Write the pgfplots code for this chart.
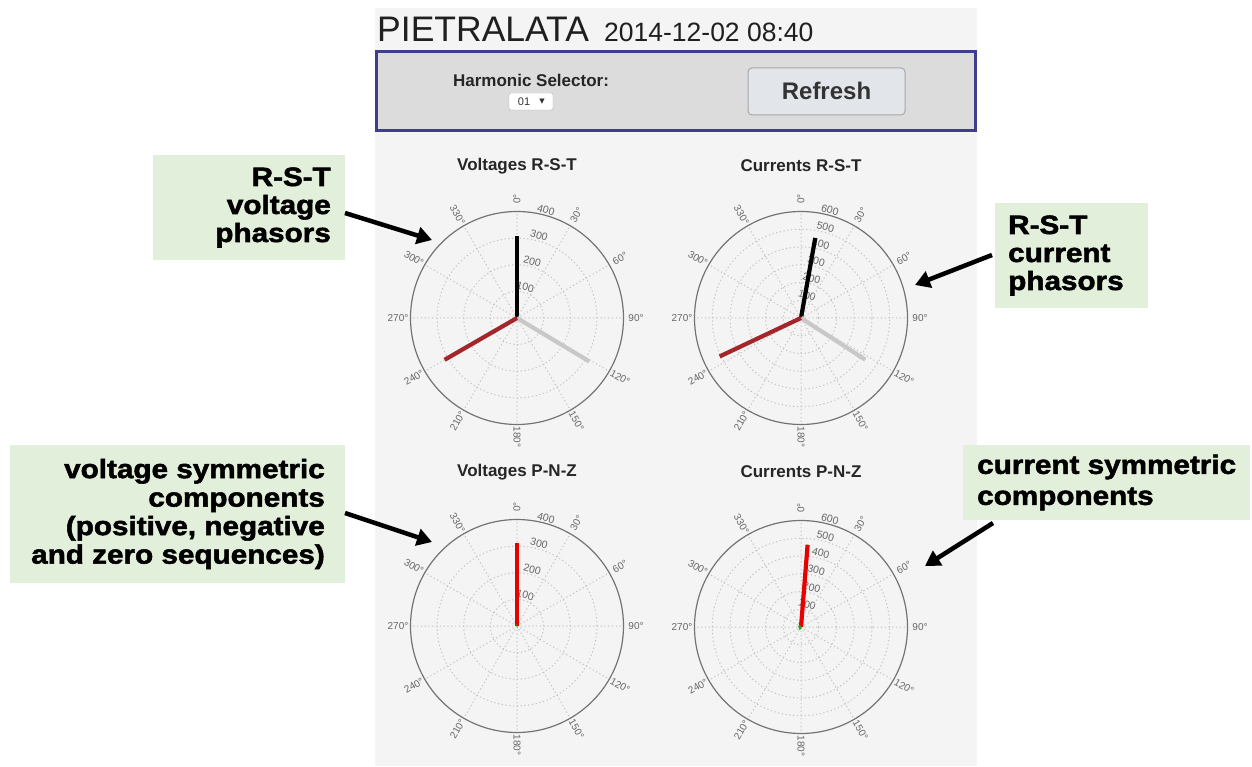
\documentclass[border=0pt]{standalone}
\usepackage{pgfplots}
\pgfplotsset{compat=1.18}
\usepgfplotslibrary{polar}
\usetikzlibrary{arrows.meta}
\usepackage{fontspec}
\setmainfont{Liberation Sans}
\newfontfamily\heavyfont[FakeBold=2,FakeStretch=1.12]{Liberation Sans}
\newfontfamily\dejavu{DejaVu Sans}
\definecolor{panelbg}{HTML}{F4F4F4}
\definecolor{hdrfill}{HTML}{DCDCDC}
\definecolor{hdrborder}{HTML}{3E3E8C}
\definecolor{btnfill}{HTML}{E2E6EA}
\definecolor{boxgreen}{HTML}{E2EFDA}
\definecolor{phR}{HTML}{000000}
\definecolor{phS}{HTML}{C8C8C8}
\definecolor{phT}{HTML}{A3262B}
\definecolor{seqP}{HTML}{E60000}
\definecolor{seqN}{HTML}{22AA22}
\definecolor{gridc}{HTML}{C2C2C2}
\definecolor{labc}{HTML}{666666}

\newcommand\anglabels[2]{%
  \foreach \ang in {0,30,...,330}{%
    \pgfmathsetmacro\aa{mod(450-\ang,360)}%
    \pgfmathsetmacro\rot{((\aa>90)&&(\aa<270)) ? \aa-180 : \aa}%
    \path (#1,#2) ++(\aa:119) node[rotate=\rot, font=\fontsize{10}{10}\selectfont, text=labc, inner sep=0pt] {\ang{}°};
  }}
\newcommand\radlabels[4]{%
  \foreach \rv in {#4}{%
    \pgfmathsetmacro\rr{\rv*#3+5.5}%
    \path (#1,#2) ++(75:\rr) node[rotate=-15, font=\fontsize{10.5}{11}\selectfont, text=labc, inner sep=0pt] {\rv};
  }}

\pgfplotsset{phasor/.style={
  scale only axis, width=213pt, height=213pt, anchor=center,
  ymin=0,
  xtick={0,30,...,330},
  xmajorticks=false, ymajorticks=false,
  xmajorgrids=true, ymajorgrids=true,
  major grid style={draw=gridc, line width=1pt, dash pattern=on 1.2pt off 2.6pt},
  axis line style={draw=black!55, line width=1.2pt},
  y axis line style={draw=none},
  every axis plot/.append style={line width=4.2pt, mark=none},
}}

\begin{document}
\begin{tikzpicture}[x=1pt,y=1pt]
\useasboundingbox (0,0) rectangle (1252,766);
\fill[white] (0,0) rectangle (1252,766);
\fill[panelbg] (375,0) rectangle (977,758);

% header
\node[anchor=base west, inner sep=0, font=\fontsize{35.5}{35}\selectfont, text=black!88] at (377,724) {PIETRALATA};
\node[anchor=base west, inner sep=0, font=\fontsize{26.5}{27}\selectfont, text=black!88] at (604,724) {2014-12-02 08:40};
\draw[hdrborder, fill=hdrfill, line width=3pt] (376.5,714) rectangle (975.5,635);
\node[font=\bfseries\fontsize{17}{18}\selectfont, text=black!85, inner sep=0] at (531,686) {Harmonic Selector:};
\draw[gray!60, fill=white, rounded corners=1.5pt] (509,673) rectangle (553,656);
\node[font=\fontsize{11}{12}\selectfont, text=black!80, inner sep=0] at (524,664.5) {01};
\node[font=\dejavu\fontsize{7}{8}\selectfont, text=black!80, inner sep=0] at (542,664.5) {▼};
\draw[gray!70, fill=btnfill, rounded corners=4pt, line width=1pt] (748,698) rectangle (905,651);
\node[font=\bfseries\fontsize{24}{25}\selectfont, text=black!80, inner sep=0] at (826.5,675) {Refresh};

% titles
\foreach \tx/\ty/\tt in {517/600/Voltages R-S-T, 801/600/Currents R-S-T, 517/294/Voltages P-N-Z, 801/294/Currents P-N-Z}{
  \node[font=\bfseries\fontsize{17}{18}\selectfont, text=black!85, inner sep=0] at (\tx,\ty) {\tt};
}

% labels under the plots
\anglabels{517}{448}
\anglabels{801}{448}
\anglabels{517}{140}
\anglabels{801}{139}
\radlabels{517}{448}{0.266}{100,200,300,400}
\radlabels{517}{140}{0.266}{100,200,300,400}
\radlabels{801}{448}{0.1775}{100,200,300,400,500,600}
\radlabels{801}{139}{0.1775}{100,200,300,400,500,600}

% Voltages R-S-T
\begin{polaraxis}[phasor, at={(517pt,448pt)}, ymax=400, ytick={100,200,300}]
\addplot[phR] coordinates {(90,0) (90,308)};
\addplot[phS] coordinates {(329,0) (329,317)};
\addplot[phT] coordinates {(210,0) (210,314)};
\end{polaraxis}

% Currents R-S-T
\begin{polaraxis}[phasor, at={(801pt,448pt)}, ymax=600, ytick={100,200,300,400,500}]
\addplot[phR] coordinates {(79.9,0) (79.9,458)};
\addplot[phS] coordinates {(327,0) (327,432)};
\addplot[phT] coordinates {(205.3,0) (205.3,507)};
\end{polaraxis}

% Voltages P-N-Z
\begin{polaraxis}[phasor, at={(517pt,140pt)}, ymax=400, ytick={100,200,300}]
\addplot[seqP] coordinates {(90,0) (90,313)};
\addplot[seqN] coordinates {(200,0) (200,2)};
\end{polaraxis}

% Currents P-N-Z
\begin{polaraxis}[phasor, at={(801pt,139pt)}, ymax=600, ytick={100,200,300,400,500}]
\addplot[seqP] coordinates {(85.4,0) (85.4,465)};
\addplot[seqN] coordinates {(200,0) (200,14)};
\end{polaraxis}

% annotation boxes
\fill[boxgreen] (153,611) rectangle (345,506);
\node[anchor=east, align=right, inner sep=0, font=\heavyfont\bfseries\fontsize{26.5}{28}\selectfont] at (331,558.5) {R-S-T\\voltage\\phasors};
\fill[boxgreen] (10,321) rectangle (345,183);
\node[anchor=east, align=right, inner sep=0, font=\heavyfont\bfseries\fontsize{26.5}{28.5}\selectfont] at (325,252) {voltage symmetric\\components\\(positive, negative\\and zero sequences)};
\fill[boxgreen] (995,563) rectangle (1148,458);
\node[anchor=west, align=left, inner sep=0, font=\heavyfont\bfseries\fontsize{26.5}{28}\selectfont] at (1008,510.5) {R-S-T\\current\\phasors};
\fill[boxgreen] (963,321) rectangle (1250,246);
\node[anchor=west, align=left, inner sep=0, font=\heavyfont\bfseries\fontsize{26.5}{31}\selectfont] at (977,283.5) {current symmetric\\components};

% arrows
\begin{scope}[line width=4.5pt, -{Triangle[length=15pt,width=17pt]}]
\draw (345,553) -- (432,526);
\draw (992,511) -- (915,481);
\draw (345,253) -- (432,224);
\draw (993,243) -- (925,200);
\end{scope}
\end{tikzpicture}
\end{document}
